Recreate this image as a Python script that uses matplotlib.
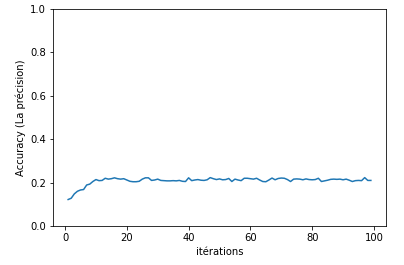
import matplotlib
matplotlib.use("Agg")
import matplotlib.pyplot as plt

iterations = list(range(1, 100))
accuracy = [
    0.122, 0.128, 0.148, 0.160, 0.166, 0.168, 0.189, 0.193, 0.205, 0.214,
    0.209, 0.210, 0.220, 0.216, 0.218, 0.222, 0.218, 0.216, 0.218, 0.212,
    0.206, 0.204, 0.204, 0.206, 0.216, 0.222, 0.222, 0.210, 0.212, 0.216,
    0.210, 0.209, 0.208, 0.208, 0.209, 0.208, 0.210, 0.206, 0.205, 0.222,
    0.209, 0.212, 0.214, 0.211, 0.210, 0.213, 0.223, 0.218, 0.214, 0.217,
    0.213, 0.214, 0.219, 0.205, 0.216, 0.212, 0.209, 0.220, 0.220, 0.218,
    0.216, 0.220, 0.212, 0.205, 0.204, 0.212, 0.221, 0.213, 0.219, 0.221,
    0.220, 0.214, 0.205, 0.216, 0.217, 0.216, 0.213, 0.217, 0.214, 0.213,
    0.214, 0.220, 0.205, 0.208, 0.211, 0.215, 0.216, 0.215, 0.216, 0.213,
    0.216, 0.211, 0.205, 0.209, 0.210, 0.209, 0.223, 0.210, 0.210,
]

W, H = 404, 265
fig = plt.figure(figsize=(W / 72, H / 72), dpi=72)
ax = fig.add_axes([53 / W, (H - 226) / H, 333 / W, 217 / H])
ax.plot(iterations, accuracy, color="#1f77b4", linewidth=1.5)
ax.set_ylim(0, 1.0)
ax.set_xlabel("itérations")
ax.set_ylabel("Accuracy (La précision)")
fig.savefig("out.png", dpi=72)
